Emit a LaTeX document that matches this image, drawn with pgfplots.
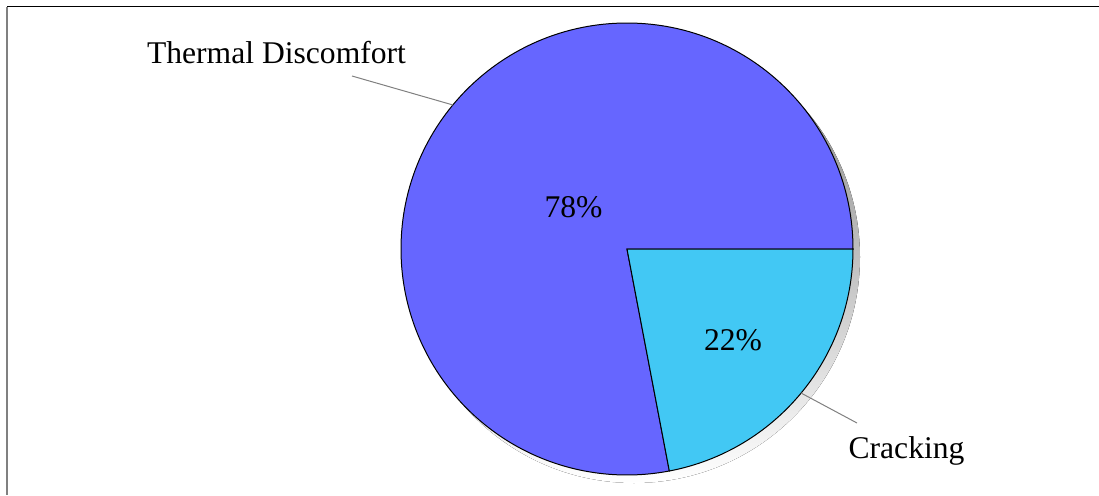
\documentclass[border=0pt]{standalone}
\usepackage{pgfplots}
\pgfplotsset{compat=1.18}
\usepackage{pgfplotstable}
\usepackage{fontspec}
\setmainfont{Liberation Serif}
\definecolor{thermal}{RGB}{102,102,255}
\definecolor{crack}{RGB}{66,200,244}
\definecolor{shade}{RGB}{192,192,192}
\definecolor{leader}{RGB}{128,128,128}
\pgfplotstableread{
label value
Thermal 78
Cracking 22
}\piedata
\newcommand{\lblfont}{\fontsize{15.8}{19}\selectfont}
\begin{document}
\begin{tikzpicture}
\pgfplotstablegetelem{0}{value}\of\piedata \let\vA\pgfplotsretval
\pgfplotstablegetelem{1}{value}\of\piedata \let\vB\pgfplotsretval
\pgfmathsetmacro{\aA}{3.6*\vA}
\pgfmathsetmacro{\aB}{-3.6*\vB}
\begin{axis}[x=0.5pt,y=0.5pt,xmin=-627,xmax=472,ymin=-246,ymax=249,
  hide axis,clip=true,scale only axis]
\path (axis cs:-627,-246) rectangle (axis cs:472,249);
% frame (partly outside the visible area)
\draw[black,line width=0.7pt] (axis cs:-620,242.5) -- (axis cs:472,242.5);
\draw[leader,line width=1pt] (axis cs:-620,242.5) -- (axis cs:-620,-246);
% shadow
\fill[shade] (axis cs:7,-8) circle[radius=113pt];
% slices
\filldraw[fill=thermal,draw=black,line width=0.5pt] (axis cs:0,0) -- (axis cs:226,0)
  arc[start angle=0,end angle=\aA,radius=113pt] -- cycle;
\filldraw[fill=crack,draw=black,line width=0.5pt] (axis cs:0,0) -- (axis cs:226,0)
  arc[start angle=0,end angle=\aB,radius=113pt] -- cycle;
% leader lines
\draw[leader,line width=0.5pt] (axis cs:-174,144) -- (axis cs:-275,173);
\draw[leader,line width=0.5pt] (axis cs:174,-144) -- (axis cs:230,-174);
% labels
\node[anchor=base,font=\lblfont] at (axis cs:-53.5,32) {78\%};
\node[anchor=base,font=\lblfont] at (axis cs:106,-101) {22\%};
\node[anchor=base,font=\lblfont] at (axis cs:-350.5,186) {Thermal Discomfort};
\node[anchor=base,font=\lblfont] at (axis cs:279.5,-209) {Cracking};
\end{axis}
\end{tikzpicture}
\end{document}
